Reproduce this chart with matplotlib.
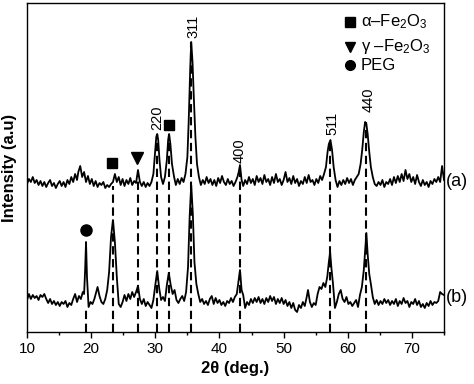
import numpy as np
import matplotlib
matplotlib.use("Agg")
import matplotlib.pyplot as plt

plt.rcParams['font.family'] = ['Liberation Sans', 'DejaVu Sans']
plt.rcParams['mathtext.fontset'] = 'custom'
plt.rcParams['mathtext.rm'] = 'Liberation Sans'
plt.rcParams['mathtext.it'] = 'Liberation Sans:italic'

'''data read off the picture (intensity in arbitrary units, offset curves)'''
# pattern (a)
theta_a = [10.0, 10.3, 10.6, 10.9, 11.2, 11.5, 11.8, 12.1, 12.4, 12.7, 13.0, 13.3, 13.6, 13.9, 14.2, 14.5,
           14.8, 15.1, 15.4, 15.7, 16.0, 16.3, 16.6, 16.9, 17.2, 17.5, 17.8, 18.0, 18.3, 18.6, 18.9, 19.2,
           19.5, 19.8, 20.1, 20.4, 20.7, 21.0, 21.3, 21.6, 21.9, 22.2, 22.5, 22.8, 23.1, 23.4, 23.7, 24.0,
           24.3, 24.6, 24.9, 25.2, 25.5, 25.8, 26.1, 26.4, 26.7, 27.0, 27.3, 27.6, 27.9, 28.2, 28.5, 28.8,
           29.1, 29.4, 29.7, 29.95, 30.15, 30.3, 30.45, 30.65, 30.9, 31.2, 31.5, 31.8, 32.0, 32.15, 32.35, 32.6,
           32.9, 33.2, 33.5, 33.8, 34.1, 34.4, 34.7, 35.0, 35.2, 35.45, 35.6, 35.8, 36.0, 36.25, 36.5, 36.8,
           37.1, 37.4, 37.7, 38.0, 38.3, 38.6, 38.9, 39.2, 39.5, 39.8, 40.1, 40.4, 40.7, 41.0, 41.3, 41.6,
           41.9, 42.2, 42.5, 42.8, 43.0, 43.2, 43.45, 43.7, 44.0, 44.3, 44.6, 44.9, 45.2, 45.5, 45.8, 46.1,
           46.4, 46.7, 47.0, 47.3, 47.6, 47.9, 48.2, 48.5, 48.8, 49.1, 49.4, 49.7, 50.0, 50.3, 50.6, 50.9,
           51.2, 51.5, 51.8, 52.1, 52.4, 52.7, 53.0, 53.3, 53.6, 53.9, 54.2, 54.5, 54.8, 55.1, 55.4, 55.7,
           56.0, 56.3, 56.6, 56.85, 57.05, 57.3, 57.55, 57.8, 58.1, 58.4, 58.7, 59.0, 59.3, 59.6, 59.9, 60.2,
           60.5, 60.8, 61.1, 61.4, 61.7, 62.0, 62.25, 62.5, 62.7, 62.9, 63.1, 63.35, 63.6, 63.9, 64.2, 64.5,
           64.8, 65.1, 65.4, 65.7, 66.0, 66.3, 66.6, 66.9, 67.2, 67.5, 67.8, 68.1, 68.4, 68.7, 69.0, 69.3,
           69.6, 69.9, 70.2, 70.5, 70.8, 71.1, 71.4, 71.7, 72.0, 72.3, 72.6, 72.9, 73.2, 73.5, 73.8, 74.1,
           74.4, 74.7, 75.0]
counts_a = [148, 153, 150, 155, 149, 152, 147, 151, 146, 150, 145, 149, 152, 146, 149, 144,
            148, 151, 146, 150, 145, 152, 148, 155, 150, 158, 152, 160, 166, 155, 160, 150,
            156, 148, 153, 146, 151, 145, 149, 147, 150, 144, 147, 145, 148, 150, 158, 150,
            155, 147, 153, 146, 152, 148, 154, 147, 151, 149, 162, 150, 146, 150, 145, 149,
            146, 150, 158, 178, 195, 198, 192, 172, 155, 148, 155, 172, 192, 198, 188, 168,
            156, 147, 153, 148, 154, 150, 158, 175, 210, 265, 290, 270, 235, 195, 168, 155,
            147, 152, 148, 155, 149, 153, 147, 152, 146, 154, 149, 156, 150, 147, 153, 148,
            151, 146, 150, 155, 160, 167, 152, 146, 152, 148, 155, 149, 153, 147, 156, 150,
            154, 148, 157, 150, 153, 147, 155, 149, 158, 150, 153, 147, 152, 160, 150, 154,
            148, 156, 149, 153, 146, 151, 148, 155, 149, 157, 150, 152, 147, 153, 149, 156,
            152, 158, 165, 180, 188, 192, 182, 165, 152, 145, 151, 147, 152, 148, 154, 149,
            153, 147, 152, 155, 158, 168, 182, 200, 210, 208, 198, 180, 165, 155, 148, 146,
            150, 147, 152, 145, 150, 148, 153, 147, 155, 149, 156, 150, 158, 151, 162, 153,
            158, 150, 155, 148, 157, 150, 146, 152, 147, 150, 145, 151, 148, 153, 150, 155,
            150, 166, 152]

# pattern (b)
theta_b = [10.0, 10.3, 10.6, 10.9, 11.2, 11.5, 11.8, 12.1, 12.4, 12.7, 13.0, 13.3, 13.6, 13.9, 14.2, 14.5,
           14.8, 15.1, 15.4, 15.7, 16.0, 16.3, 16.6, 16.9, 17.2, 17.5, 17.8, 18.1, 18.4, 18.7, 18.9, 19.05,
           19.2, 19.35, 19.6, 19.9, 20.2, 20.5, 20.8, 21.0, 21.3, 21.6, 21.9, 22.2, 22.5, 22.8, 23.1, 23.4,
           23.7, 24.0, 24.3, 24.6, 24.9, 25.2, 25.5, 25.8, 26.1, 26.4, 26.7, 27.0, 27.3, 27.6, 27.9, 28.2,
           28.5, 28.8, 29.1, 29.4, 29.7, 30.0, 30.3, 30.6, 30.9, 31.2, 31.5, 31.8, 32.1, 32.4, 32.7, 33.0,
           33.3, 33.6, 33.9, 34.2, 34.5, 34.8, 35.1, 35.35, 35.6, 35.85, 36.1, 36.4, 36.7, 37.0, 37.3, 37.6,
           37.9, 38.2, 38.5, 38.8, 39.1, 39.4, 39.7, 40.0, 40.3, 40.6, 40.9, 41.2, 41.5, 41.8, 42.1, 42.4,
           42.7, 43.0, 43.2, 43.45, 43.7, 44.0, 44.3, 44.6, 44.9, 45.2, 45.5, 45.8, 46.1, 46.4, 46.7, 47.0,
           47.3, 47.6, 47.9, 48.2, 48.5, 48.8, 49.1, 49.4, 49.7, 50.0, 50.3, 50.6, 50.9, 51.2, 51.5, 51.8,
           52.1, 52.4, 52.7, 53.0, 53.3, 53.6, 53.8, 54.1, 54.4, 54.7, 55.0, 55.3, 55.6, 55.9, 56.2, 56.5,
           56.8, 57.05, 57.25, 57.45, 57.7, 58.0, 58.3, 58.6, 58.9, 59.2, 59.5, 59.8, 60.1, 60.4, 60.7, 61.0,
           61.3, 61.6, 61.9, 62.2, 62.5, 62.75, 62.9, 63.1, 63.35, 63.6, 63.9, 64.2, 64.5, 64.8, 65.1, 65.4,
           65.7, 66.0, 66.3, 66.6, 66.9, 67.2, 67.5, 67.8, 68.1, 68.4, 68.7, 69.0, 69.3, 69.6, 69.9, 70.2,
           70.5, 70.8, 71.1, 71.4, 71.7, 72.0, 72.3, 72.6, 72.9, 73.2, 73.5, 73.8, 74.1, 74.4, 74.7, 75.0]
counts_b = [32, 38, 33, 37, 34, 36, 32, 37, 35, 38, 33, 29, 33, 28, 31, 27,
            30, 26, 30, 28, 31, 25, 29, 27, 33, 38, 30, 36, 33, 40, 38, 60,
            90, 55, 25, 30, 28, 33, 40, 45, 36, 30, 28, 33, 42, 60, 95, 112,
            90, 55, 28, 25, 30, 37, 31, 38, 33, 40, 35, 40, 46, 33, 28, 33,
            26, 30, 27, 24, 32, 47, 61, 44, 32, 35, 31, 47, 59, 47, 38, 42,
            32, 29, 33, 36, 31, 40, 65, 115, 147, 118, 70, 48, 38, 30, 33, 28,
            31, 27, 33, 36, 28, 34, 29, 32, 27, 30, 26, 31, 29, 34, 30, 35,
            38, 52, 62, 42, 37, 24, 30, 27, 33, 29, 34, 30, 35, 29, 33, 28,
            34, 30, 36, 31, 35, 28, 33, 29, 34, 28, 32, 26, 30, 24, 29, 22,
            20, 27, 24, 30, 26, 35, 42, 30, 25, 29, 27, 38, 45, 43, 49, 45,
            55, 70, 80, 64, 48, 24, 30, 38, 42, 33, 30, 35, 28, 30, 26, 29,
            32, 25, 37, 45, 62, 85, 99, 78, 58, 48, 35, 28, 32, 27, 31, 28,
            33, 29, 32, 27, 31, 28, 33, 26, 31, 28, 34, 29, 31, 25, 30, 28,
            33, 27, 31, 25, 28, 24, 29, 26, 31, 27, 30, 29, 31, 40, 38, 37]

# reference peak positions (dashed lines) and how high each line reaches
ref_pos = [19.2, 23.4, 27.3, 30.3, 32.2, 35.6, 43.2, 57.3, 62.9]
ref_top = [25, 146, 156, 198, 198, 290, 160, 192, 210]

# hkl labels of the spinel peaks
hkl_text = ['220', '311', '400', '511', '440']
hkl_pos = [30.3, 36.0, 43.2, 57.6, 63.3]
hkl_y = [202, 294, 169, 197, 220]

# phase markers on the peaks
alpha_pos = [23.25, 32.1]
alpha_y = [169, 207]
gamma_pos = [27.2]
gamma_y = [174]
peg_pos = [19.2]
peg_y = [102]


'''plot'''
fig = plt.figure(figsize=(4.74, 3.84), dpi=100)
ax = fig.add_axes([27 / 474, 52 / 384, 417 / 474, 329 / 384])

for x, top in zip(ref_pos, ref_top):
    ax.plot([x, x], [0, top], color='k', linestyle=(0, (4, 2.2)), linewidth=1.5, zorder=1)

ax.plot(theta_a, counts_a, color='k', linewidth=1.3, zorder=2)
ax.plot(theta_b, counts_b, color='k', linewidth=1.3, zorder=2)

for t, x, y in zip(hkl_text, hkl_pos, hkl_y):
    ax.text(x, y, t, rotation=90, ha='center', va='bottom', fontsize=10.5)

ax.plot(alpha_pos, alpha_y, 's', color='k', markersize=7, linestyle='none')
ax.plot(gamma_pos, gamma_y, 'v', color='k', markersize=8, linestyle='none')
ax.plot(peg_pos, peg_y, 'o', color='k', markersize=8, linestyle='none')

# legend drawn by hand, like the original
ax.plot([60.4], [310], 's', color='k', markersize=6.5)
ax.plot([60.4], [285], 'v', color='k', markersize=7)
ax.plot([60.4], [267], 'o', color='k', markersize=7)
ax.text(62.0, 310, 'α–Fe$_2$O$_3$', va='center', fontsize=12)
ax.text(62.0, 285, 'γ –Fe$_2$O$_3$', va='center', fontsize=12)
ax.text(62.0, 267, 'PEG', va='center', fontsize=12)

ax.text(75.3, 151, '(a)', va='center', ha='left', fontsize=13, clip_on=False)
ax.text(75.3, 34, '(b)', va='center', ha='left', fontsize=13, clip_on=False)

ax.set_xlim(10, 75)
ax.set_ylim(0, 329)
ax.set_xticks([10, 20, 30, 40, 50, 60, 70])
ax.set_xticks([15, 25, 35, 45, 55, 65, 75], minor=True)
ax.set_yticks([])
ax.tick_params(axis='x', which='major', direction='out', length=4, width=1, labelsize=11, pad=3)
ax.tick_params(axis='x', which='minor', direction='out', length=2.5, width=1)
for s in ax.spines.values():
    s.set_linewidth(1.0)

ax.set_xlabel('2θ (deg.)', fontsize=12, fontweight='bold', labelpad=4)
ax.set_ylabel('Intensity (a.u)', fontsize=12, fontweight='bold')
ax.yaxis.set_label_coords(-0.024, 0.5)

plt.savefig('out.png', dpi=100)
